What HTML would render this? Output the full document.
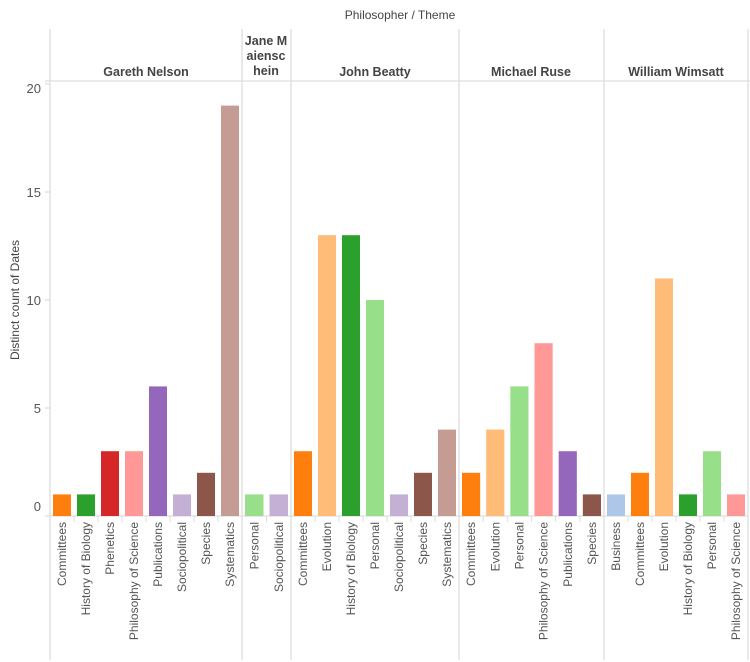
<!DOCTYPE html>
<html><head><meta charset="utf-8"><style>
html,body{margin:0;padding:0;background:#fff;}
svg{display:block;font-family:"Liberation Sans",Arial,sans-serif;}
</style></head><body>
<svg width="750" height="662" viewBox="0 0 750 662" xmlns="http://www.w3.org/2000/svg">
<text x="400" y="19" font-size="12" fill="#444" text-anchor="middle">Philosopher  /  Theme</text>
<text transform="translate(19,300) rotate(-90)" font-size="12" fill="#444" text-anchor="middle">Distinct count of Dates</text>
<g stroke="#ddd" stroke-width="1.3">
<line x1="45" y1="81" x2="750" y2="81"/>
<line x1="50" y1="29" x2="50" y2="660"/>
<line x1="242" y1="29" x2="242" y2="660"/>
<line x1="291" y1="29" x2="291" y2="660"/>
<line x1="459" y1="29" x2="459" y2="660"/>
<line x1="604" y1="29" x2="604" y2="660"/>
<line x1="748" y1="29" x2="748" y2="660"/>
<line x1="45" y1="516" x2="748" y2="516"/>
<line x1="45" y1="84" x2="50" y2="84"/>
<line x1="45" y1="192" x2="50" y2="192"/>
<line x1="45" y1="300" x2="50" y2="300"/>
<line x1="45" y1="408" x2="50" y2="408"/>
</g>
<g font-size="13" fill="#555" text-anchor="end">
<text x="41" y="93">20</text><text x="41" y="197">15</text><text x="41" y="305">10</text><text x="41" y="413">5</text><text x="41" y="511">0</text>
</g>
<g font-size="12.5" font-weight="bold" fill="#444" text-anchor="middle">
<text x="146" y="76">Gareth Nelson</text>
<text x="266" y="45">Jane M</text><text x="266" y="60">aiensc</text><text x="266" y="75">hein</text>
<text x="375" y="76">John Beatty</text>
<text x="531" y="76">Michael Ruse</text>
<text x="676" y="76">William Wimsatt</text>
</g>
<g id="bars"></g>
<g id="labels" font-size="12" fill="#555"></g>
<g id="ticks" stroke="#ddd"></g>
</svg>
<script>
var C={o:"#ff7f0e",g:"#2ca02c",r:"#d62728",p:"#ff9896",pu:"#9467bd",lp:"#c5b0d5",b:"#8c564b",ro:"#c49c94",lg:"#98df8a",lo:"#ffbb78",lb:"#aec7e8"};
var panels=[
[50,242,[["Committees",1,"o"],["History of Biology",1,"g"],["Phenetics",3,"r"],["Philosophy of Science",3,"p"],["Publications",6,"pu"],["Sociopolitical",1,"lp"],["Species",2,"b"],["Systematics",19,"ro"]]],
[242,291,[["Personal",1,"lg"],["Sociopolitical",1,"lp"]]],
[291,459,[["Committees",3,"o"],["Evolution",13,"lo"],["History of Biology",13,"g"],["Personal",10,"lg"],["Sociopolitical",1,"lp"],["Species",2,"b"],["Systematics",4,"ro"]]],
[459,604,[["Committees",2,"o"],["Evolution",4,"lo"],["Personal",6,"lg"],["Philosophy of Science",8,"p"],["Publications",3,"pu"],["Species",1,"b"]]],
[604,748,[["Business",1,"lb"],["Committees",2,"o"],["Evolution",11,"lo"],["History of Biology",1,"g"],["Personal",3,"lg"],["Philosophy of Science",1,"p"]]]
];
var ns="http://www.w3.org/2000/svg",bars=document.getElementById("bars"),labs=document.getElementById("labels"),tk=document.getElementById("ticks");
function el(t,a,p){var e=document.createElementNS(ns,t);for(var k in a)e.setAttribute(k,a[k]);p.appendChild(e);return e;}
panels.forEach(function(P){var w=(P[1]-P[0])/P[2].length;
P[2].forEach(function(d,i){var x0=P[0]+i*w,h=d[1]*21.6;
el("rect",{x:x0+3,y:516-h,width:w-6,height:h,fill:C[d[2]]},bars);
if(i>0)el("line",{x1:x0,y1:516,x2:x0,y2:522},tk);
var t=el("text",{transform:"translate("+(x0+w/2+4)+",522) rotate(-90)","text-anchor":"end"},labs);t.textContent=d[0];});});
</script>
</body></html>
